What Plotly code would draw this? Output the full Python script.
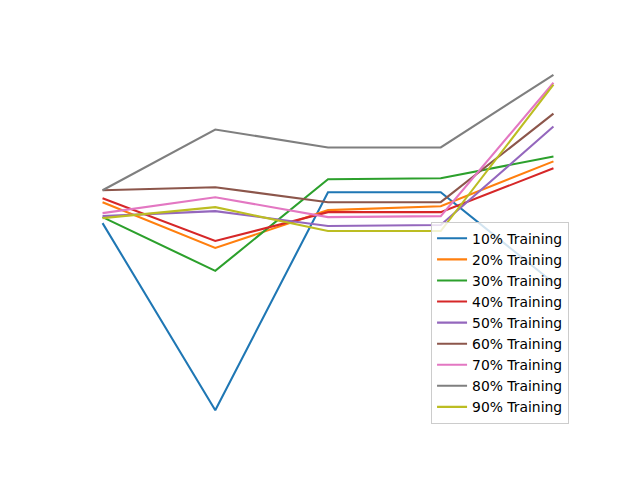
import plotly.graph_objects as go

x_vals = [0, 1, 2, 3, 4]
series_names = ["10% Training", "20% Training", "30% Training", "40% Training", "50% Training",
                "60% Training", "70% Training", "80% Training", "90% Training"]
s10 = [0.777, 0.589, 0.808, 0.808, 0.717]
s20 = [0.798, 0.752, 0.790, 0.794, 0.839]
s30 = [0.783, 0.729, 0.821, 0.822, 0.844]
s40 = [0.802, 0.759, 0.788, 0.788, 0.832]
s50 = [0.784, 0.789, 0.774, 0.775, 0.874]
s60 = [0.810, 0.813, 0.798, 0.798, 0.887]
s70 = [0.787, 0.803, 0.783, 0.784, 0.918]
s80 = [0.810, 0.871, 0.853, 0.853, 0.926]
s90 = [0.782, 0.793, 0.769, 0.769, 0.916]
series = [s10, s20, s30, s40, s50, s60, s70, s80, s90]
colors = ["#1f77b4", "#ff7f0e", "#2ca02c", "#d62728", "#9467bd",
          "#8c564b", "#e377c2", "#7f7f7f", "#bcbd22"]

fig = go.Figure()
for i, (name, ys) in enumerate(zip(series_names, series)):
    fig.add_trace(go.Scatter(x=x_vals, y=ys, mode="lines", name=name,
                             line=dict(color=colors[i], width=2.08)))

all_y = [v for s in series for v in s]
lo, hi = min(all_y), max(all_y)
pad = (hi - lo) * 0.05

fig.update_layout(
    width=640, height=480,
    margin=dict(l=80, r=64, t=57.6, b=52.8, pad=0),
    paper_bgcolor="white", plot_bgcolor="white",
    xaxis=dict(visible=False, range=[-0.2, 4.2]),
    yaxis=dict(visible=False, range=[lo - pad, hi + pad]),
    font=dict(family="DejaVu Sans", size=13.9, color="black"),
    legend=dict(x=0.986, y=0.0087, xanchor="right", yanchor="bottom",
                bgcolor="rgba(255,255,255,0.8)", bordercolor="#cccccc", borderwidth=1,
                itemwidth=30, font=dict(size=13.9)),
    showlegend=True,
)
fig.write_html("out.html")
